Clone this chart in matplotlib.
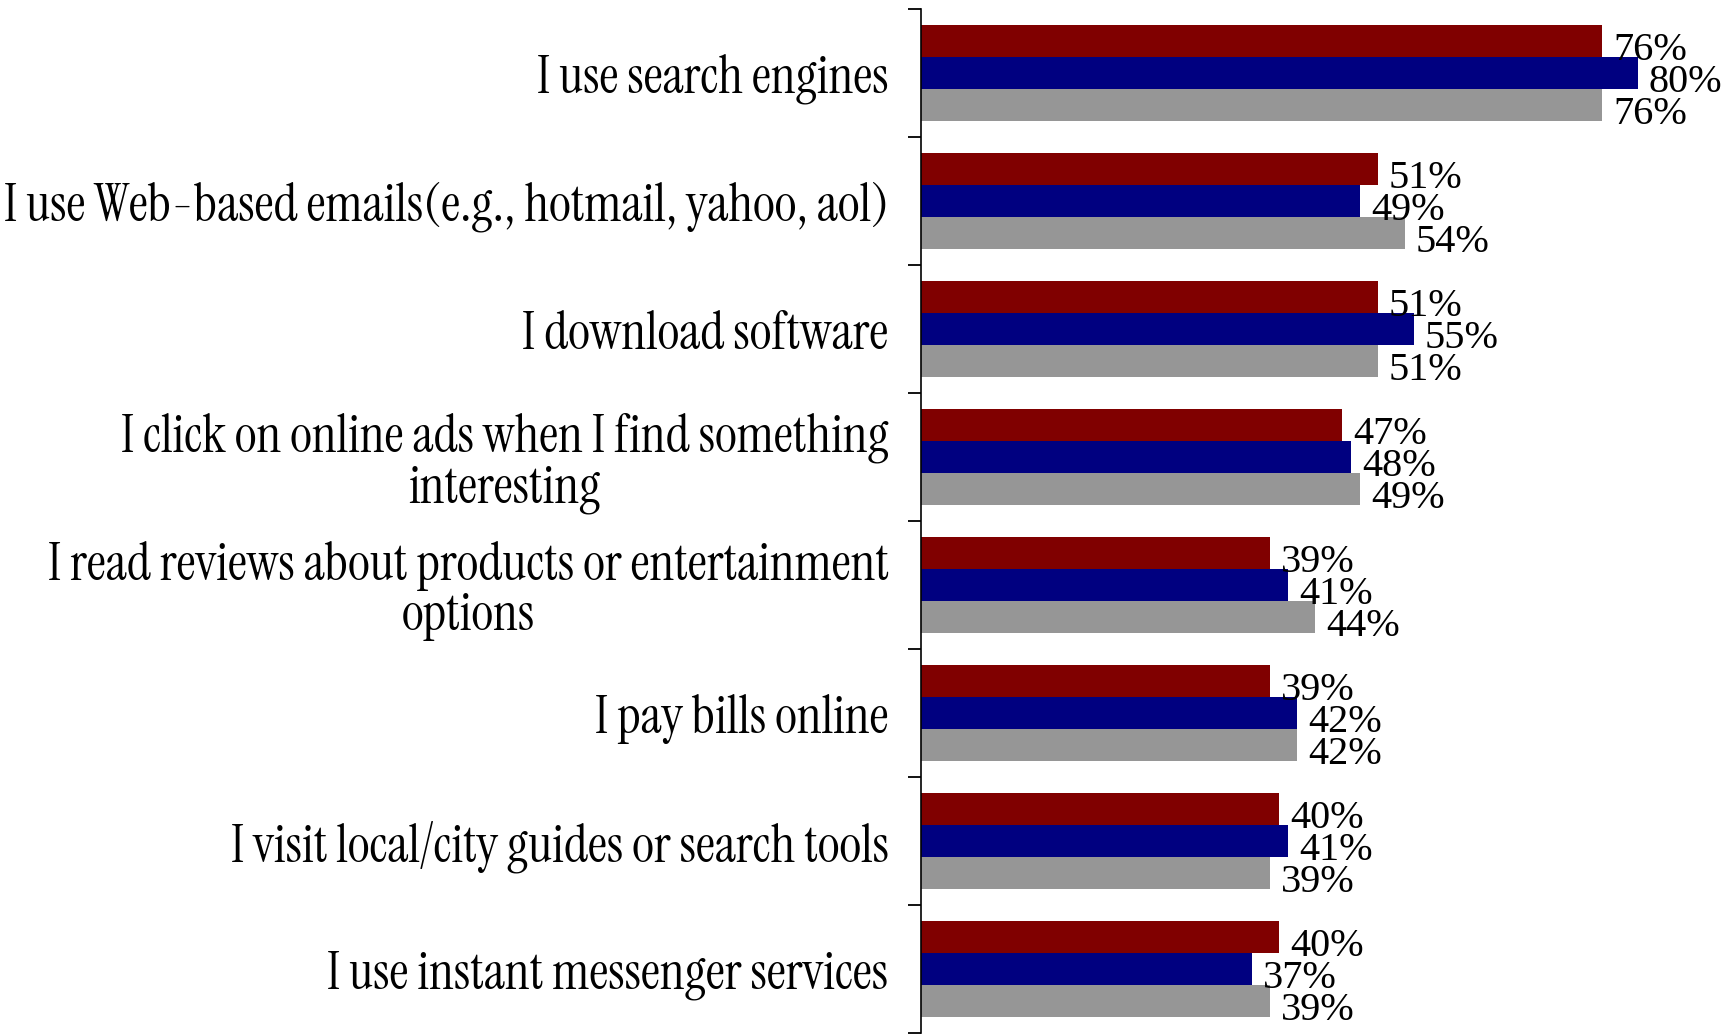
import matplotlib
matplotlib.use("Agg")
import matplotlib.pyplot as plt
import numpy as np

# Survey activities, listed top to bottom
categories = [
    "I use search engines",
    "I use Web-based emails(e.g., hotmail, yahoo, aol)",
    "I download software",
    "I click on online ads when I find something\ninteresting",
    "I read reviews about products or entertainment\noptions",
    "I pay bills online",
    "I visit local/city guides or search tools",
    "I use instant messenger services",
]

# Percentages for the three respondent groups
series_1 = [76, 51, 51, 47, 39, 39, 40, 40]
series_2 = [80, 49, 55, 48, 41, 42, 41, 37]
series_3 = [76, 54, 51, 49, 44, 42, 39, 39]

series = [series_1, series_2, series_3]
colors = ["#800000", "#000080", "#969696"]

label_font = ["Instrument Serif", "Liberation Serif", "DejaVu Serif"]
value_font = ["Liberation Serif", "DejaVu Serif"]

fig = plt.figure(figsize=(17.32, 10.35), dpi=100)
ax = fig.add_axes([0.5315, 0.0019, 0.4685, 0.9894])

y = np.arange(len(categories))
h = 0.25
offsets = [-h, 0.0, h]

for vals, col, off in zip(series, colors, offsets):
    bars = ax.barh(y + off, vals, height=h, color=col, edgecolor="none")
    for rect, v in zip(bars, vals):
        ax.annotate(f"{v}%",
                    xy=(rect.get_width(), rect.get_y() + rect.get_height() / 2),
                    xytext=(8, -14), textcoords="offset points",
                    ha="left", va="baseline",
                    fontsize=29, family=value_font, color="black",
                    annotation_clip=False)

ax.set_xlim(0, 90.5)
ax.set_ylim(len(categories) - 0.5, -0.5)

# Category labels at group centres, tick marks at group boundaries
ax.set_yticks(y)
ax.set_yticklabels(categories, family=label_font, fontsize=38,
                   multialignment="center", linespacing=1.0)
ax.set_yticks(np.arange(len(categories) + 1) - 0.5, minor=True)
ax.tick_params(axis="y", which="major", length=0, pad=23)
ax.tick_params(axis="y", which="minor", length=9.5, width=1.3, direction="out", color="black")
ax.set_xticks([])

for side in ("top", "right", "bottom"):
    ax.spines[side].set_visible(False)
ax.spines["left"].set_linewidth(1.2)
ax.spines["left"].set_color("black")

fig.savefig("out.png", dpi=100)
